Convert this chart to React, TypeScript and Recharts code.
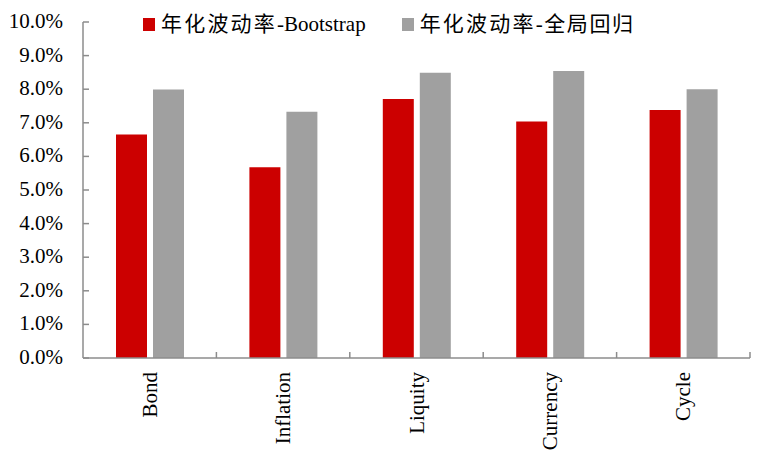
import React from "react";
import { BarChart, Bar, XAxis, YAxis, Legend } from "recharts";

const categories = ["Bond", "Inflation", "Liquity", "Currency", "Cycle"];
const bootstrapValues = [6.65, 5.68, 7.71, 7.04, 7.38];
const regressionValues = [7.99, 7.33, 8.49, 8.54, 8.0];
const yTicks = [0, 1, 2, 3, 4, 5, 6, 7, 8, 9, 10];
const seriesNames = ["年化波动率-Bootstrap", "年化波动率-全局回归"];

const data = categories.map((c, i) => ({
  name: c,
  boot: bootstrapValues[i],
  reg: regressionValues[i],
}));

const W = 760;
const H = 448;
const M = { top: 14, right: 18, bottom: 0, left: 0 };
const YW = 75;
const XH = 98;
const BAND = (W - M.right - M.left - YW) / categories.length;
const AXIS = "#8c8c8c";
const RED = "#CC0000";
const GRAY = "#A0A0A0";
const FONT = "'Liberation Serif', 'Noto Sans CJK SC', serif";

const XTick = (props: any) => {
  const { x, y, payload } = props;
  const ty = y + 14;
  return (
    <g>
      <line x1={x + BAND / 2} x2={x + BAND / 2} y1={y} y2={y - 6} stroke={AXIS} strokeWidth={1.5} />
      <text
        x={x}
        y={ty}
        transform={`rotate(-90, ${x}, ${ty})`}
        textAnchor="end"
        dominantBaseline="central"
        fontSize={21}
        fontFamily={FONT}
        fill="#000"
      >
        {payload.value}
      </text>
    </g>
  );
};

const YTick = (props: any) => {
  const { x, y, payload } = props;
  return (
    <g>
      <line x1={x} x2={x + 6} y1={y} y2={y} stroke={AXIS} strokeWidth={1.5} />
      <text
        x={x - 20}
        y={y - 1}
        textAnchor="end"
        dominantBaseline="central"
        fontSize={21}
        fontFamily={FONT}
        fill="#000"
      >
        {`${Number(payload.value).toFixed(1)}%`}
      </text>
    </g>
  );
};

const LegendContent = () => {
  const item = (color: string, label: string, mr: number) => {
    const idx = label.indexOf("-");
    const cjk = label.slice(0, idx);
    const rest = label.slice(idx);
    const restIsCjk = /[\u4e00-\u9fff]/.test(rest);
    return (
      <div style={{ display: "flex", alignItems: "center", marginRight: mr }}>
        <span style={{ display: "inline-block", width: 12, height: 13, background: color, marginRight: 6 }} />
        <span style={{ fontSize: 21, fontFamily: FONT, color: "#000", whiteSpace: "nowrap", lineHeight: "28px" }}>
          <span style={{ letterSpacing: 2.2 }}>{cjk}</span>
          <span style={{ letterSpacing: restIsCjk ? 1.6 : 0 }}>{rest}</span>
        </span>
      </div>
    );
  };
  return (
    <div style={{ display: "flex", alignItems: "center" }}>
      {item(RED, seriesNames[0], 36)}
      {item(GRAY, seriesNames[1], 0)}
    </div>
  );
};

export default function App() {
  return (
    <div style={{ width: W, height: H, fontFamily: FONT }}>
      <BarChart width={W} height={H} data={data} margin={M} barGap={6} barSize={31}>
        <XAxis
          dataKey="name"
          interval={0}
          height={XH}
          tickLine={false}
          tickSize={0}
          tickMargin={0}
          axisLine={{ stroke: AXIS, strokeWidth: 1.5 }}
          tick={<XTick />}
        />
        <YAxis
          width={YW}
          domain={[0, 10]}
          ticks={yTicks}
          interval={0}
          tickLine={false}
          tickSize={0}
          tickMargin={0}
          axisLine={{ stroke: AXIS, strokeWidth: 1.5 }}
          tick={<YTick />}
        />
        <Legend
          verticalAlign="middle"
          align="center"
          content={<LegendContent />}
          wrapperStyle={{ top: 2, left: 135, width: 560, height: 28 }}
        />
        <Bar dataKey="boot" name={seriesNames[0]} fill={RED} isAnimationActive={false} />
        <Bar dataKey="reg" name={seriesNames[1]} fill={GRAY} isAnimationActive={false} />
      </BarChart>
    </div>
  );
}
